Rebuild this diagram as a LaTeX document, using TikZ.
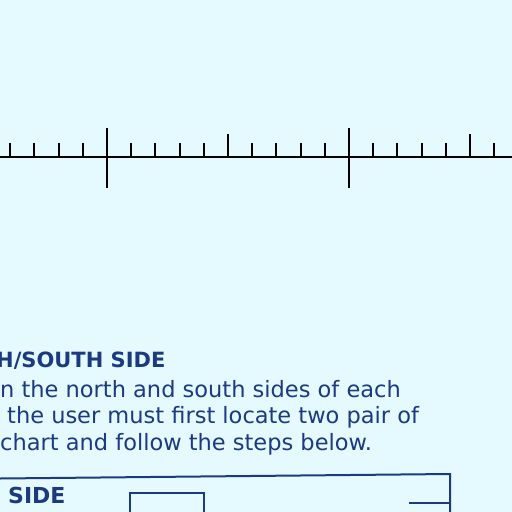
\documentclass[tikz,border=0pt]{standalone}
\usepackage{fontspec}
\setmainfont{DejaVu Sans}
\definecolor{bgc}{RGB}{229,250,254}
\definecolor{ink}{RGB}{28,58,128}
\begin{document}
\begin{tikzpicture}[x=1pt,y=-1pt,
  tick/.style={line width=2pt,black},
  body/.style={anchor=base west,inner sep=0pt,text=ink,font=\fontsize{22.5}{26}\selectfont},
  head/.style={anchor=base west,inner sep=0pt,text=ink,font=\bfseries\fontsize{21}{24}\selectfont},
  boxline/.style={draw=ink,line width=2pt}]
\useasboundingbox (0,0) rectangle (512,512);
\fill[bgc] (0,0) rectangle (512,512);
\clip (0,0) rectangle (512,512);
% scale line
\draw[line width=1.6pt,black] (0,157) -- (512,157);
\foreach \j in {-5,...,17}{
  \pgfmathsetmacro{\xx}{107+24.2*\j}
  \pgfmathtruncatemacro{\m}{mod(\j+20,10)}
  \ifnum\m=0
    \draw[tick,line width=2.4pt] (\xx,128) -- (\xx,188);
  \else\ifnum\m=5
    \draw[tick] (\xx,134) -- (\xx,157);
  \else
    \draw[tick] (\xx,143) -- (\xx,157);
  \fi\fi
}
% texts
\node[head] (h) at (-4,367) {H/SOUTH SIDE};
\node[body] (l1) at (0,397) {n the north and south sides of each};
\node[body] (l2) at (7,423) {the user must first locate two pair of};
\node[body] (l3) at (0,450) {chart and follow the steps below.};
% bottom box
\draw[boxline] (0,478.5) -- (450,474) -- (450,512);
\draw[boxline] (409,503) -- (450,503);
\node[head,font=\bfseries\fontsize{22}{24}\selectfont] (s) at (8,503) {SIDE};
\draw[boxline] (129.5,514) -- (129.5,493) -- (204,493) -- (204,514);
\node[head] (p) at (228,528) {POINT 1};
\end{tikzpicture}
\end{document}
